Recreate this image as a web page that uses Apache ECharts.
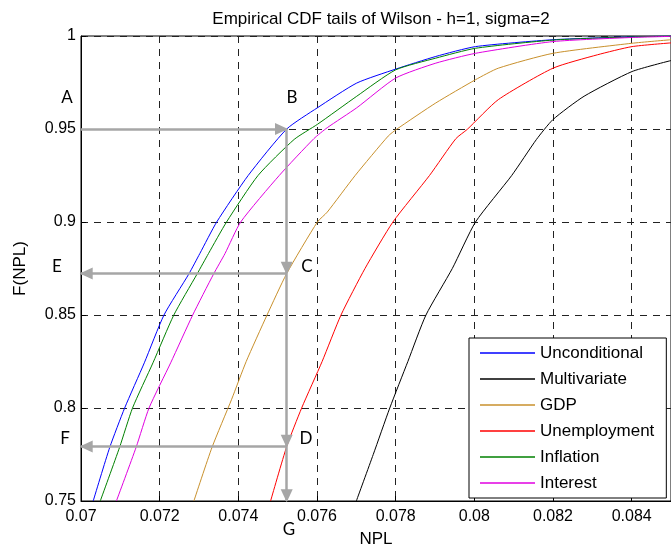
<!DOCTYPE html>
<html>
<head>
<meta charset="utf-8">
<script src="https://cdn.jsdelivr.net/npm/echarts@6/dist/echarts.min.js"></script>
<style>
html,body{margin:0;padding:0;background:#fff;}
#chart{width:671px;height:553px;}
</style>
</head>
<body>
<div id="chart"></div>
<script>
// ---- data: [NPL, F(NPL)] pairs ----
const seriesNames = ['Unconditional','Multivariate','GDP','Unemployment','Inflation','Interest'];
const seriesColors = ['#0000ff','#000000','#c8902c','#ff0000','#008000','#e000e0'];

const unconditional = [[0.07031,0.75],[0.07073,0.7788],[0.07111,0.8],[0.07161,0.8243],[0.07211,0.85],[0.07274,0.872],[0.07302,0.883],[0.07345,0.9],[0.07425,0.925],[0.07523,0.95],[0.07601,0.9614],[0.07701,0.9747],[0.078,0.9822],[0.07902,0.989],[0.08003,0.9943],[0.082,0.998],[0.084,0.9996],[0.085,1.0]];
const multivariate = [[0.077,0.75],[0.07743,0.775],[0.07785,0.8],[0.07831,0.825],[0.07877,0.85],[0.07944,0.875],[0.08003,0.9],[0.08095,0.925],[0.08158,0.9444],[0.082,0.9551],[0.08279,0.9676],[0.08401,0.9809],[0.085,0.9868]];
const gdp = [[0.07287,0.75],[0.07333,0.7788],[0.07383,0.8047],[0.0742,0.825],[0.07473,0.85],[0.07523,0.8723],[0.07601,0.9],[0.07626,0.9053],[0.07697,0.925],[0.07781,0.9462],[0.07802,0.9498],[0.07902,0.964],[0.08003,0.9765],[0.08061,0.9827],[0.082,0.9907],[0.08401,0.9961],[0.085,0.998]];
const unemployment = [[0.07482,0.75],[0.07523,0.7793],[0.07561,0.8],[0.07613,0.825],[0.07661,0.85],[0.07722,0.875],[0.07793,0.9],[0.07886,0.925],[0.07953,0.9448],[0.07982,0.9498],[0.08061,0.9658],[0.082,0.9827],[0.08313,0.9899],[0.08401,0.9943],[0.085,0.9963]];
const inflation = [[0.07049,0.75],[0.07098,0.7788],[0.07131,0.8],[0.07183,0.8243],[0.07236,0.85],[0.07295,0.872],[0.07324,0.883],[0.0737,0.9],[0.0745,0.925],[0.07542,0.9444],[0.07601,0.9525],[0.07701,0.9676],[0.078,0.9818],[0.07902,0.9881],[0.08003,0.9934],[0.082,0.9978],[0.084,0.9995],[0.085,1.0]];
const interest = [[0.0709,0.75],[0.0714,0.7788],[0.07173,0.8],[0.07228,0.8243],[0.07284,0.85],[0.07337,0.872],[0.07366,0.883],[0.07406,0.9],[0.07504,0.925],[0.07592,0.9448],[0.07626,0.9507],[0.07701,0.9614],[0.078,0.9774],[0.07902,0.9854],[0.08003,0.9907],[0.082,0.997],[0.084,0.9992],[0.085,0.9998]];
const seriesData = [unconditional, multivariate, gdp, unemployment, inflation, interest];

// axis settings
const xMin = 0.07, xMax = 0.085, xStep = 0.002;
const yMin = 0.75, yMax = 1, yStep = 0.05;

// annotation values: cut-off NPL at F=0.95 on Unconditional, and resulting probabilities
const cutNPL = 0.07523;
const levelB = 0.95, levelC = 0.8723, levelD = 0.7793;

const chart = echarts.init(document.getElementById('chart'), null, {renderer:'canvas'});
const FONT = 'Liberation Sans, Arial, sans-serif';
const arrowColor = '#a6a6a6';

const arrowLine = {
  type: 'line', data: [], silent: true, animation: false,
  markLine: {
    silent: true, animation: false,
    symbol: ['none','triangle'], symbolSize: [12,13],
    symbolOffset: [0, [0, '40%']],
    label: {show:false},
    lineStyle: {color: arrowColor, width: 2.5, type: 'solid'},
    emphasis: {disabled: true},
    data: [
      [{coord:[xMin, levelB]}, {coord:[cutNPL, levelB]}],
      [{coord:[cutNPL, levelB]}, {coord:[cutNPL, levelC]}],
      [{coord:[cutNPL, levelC]}, {coord:[cutNPL, levelD]}],
      [{coord:[cutNPL, levelD]}, {coord:[cutNPL, yMin]}],
      [{coord:[cutNPL, levelC]}, {coord:[xMin, levelC]}],
      [{coord:[cutNPL, levelD]}, {coord:[xMin, levelD]}]
    ]
  }
};

const series = seriesNames.map((n,i)=>({
  name: n, type: 'line', data: seriesData[i], showSymbol: false, symbol: 'none',
  smooth: 0.2,
  lineStyle: {color: seriesColors[i], width: 1}, itemStyle: {color: seriesColors[i]},
  clip: true, animation: false, z: 3
}));

const letterStyle = {fontFamily: 'Lato, Open Sans, sans-serif', fontSize: 17, fill: '#000', textAlign:'center', textVerticalAlign:'middle'};
const letters = [['A',67,98],['B',292,98],['E',57,267],['C',307,267],['F',65,439],['D',306,439],['G',289,530]];

chart.setOption({
  animation: false,
  backgroundColor: '#fff',
  title: {
    text: 'Empirical CDF tails of Wilson - h=1, sigma=2',
    left: 376, top: 6, textAlign: 'center',
    textStyle: {fontFamily: FONT, fontSize: 17, fontWeight: 'normal', color: '#000'}
  },
  grid: {left: 81, top: 36, right: -7, bottom: 49, show: true, borderColor: '#000', borderWidth: 1, containLabel: false},
  legend: {
    data: seriesNames, orient: 'vertical', left: 469, top: 338,
    icon: 'rect', itemWidth: 55, itemHeight: 1.5, itemGap: 6,
    padding: [5,12,5,11], backgroundColor: '#fff', borderColor: '#000', borderWidth: 1,
    selectedMode: false,
    textStyle: {fontFamily: FONT, fontSize: 17, color: '#000', lineHeight: 20}
  },
  xAxis: {
    type: 'value', min: xMin, max: xMax, interval: xStep,
    name: 'NPL', nameLocation: 'middle', nameGap: 30,
    nameTextStyle: {fontFamily: FONT, fontSize: 17, color: '#000'},
    axisLine: {show: true, onZero: false, lineStyle: {color:'#000', width:1}},
    axisTick: {show: true, inside: true, length: 5, lineStyle:{color:'#000'}},
    axisLabel: {fontFamily: FONT, fontSize: 16, color: '#000', margin: 8, showMaxLabel: false},
    splitLine: {show: true, lineStyle: {color: '#222', type: [7,6], width: 1}}
  },
  yAxis: {
    type: 'value', min: yMin, max: yMax, interval: yStep,
    name: 'F(NPL)', nameLocation: 'middle', nameGap: 52,
    nameTextStyle: {fontFamily: FONT, fontSize: 17, color: '#000'},
    axisLine: {show: true, onZero: false, lineStyle: {color:'#000', width:1}},
    axisTick: {show: true, inside: true, length: 5, lineStyle:{color:'#000'}},
    axisLabel: {fontFamily: FONT, fontSize: 16, color: '#000', margin: 5},
    splitLine: {show: true, lineStyle: {color: '#222', type: [7,6], width: 1}}
  },
  series: series.concat([arrowLine]),
  graphic: letters.map(l=>({type:'text', x: l[1], y: l[2], z: 10,
    style: Object.assign({text: l[0]}, letterStyle)}))
});
</script>
</body>
</html>
